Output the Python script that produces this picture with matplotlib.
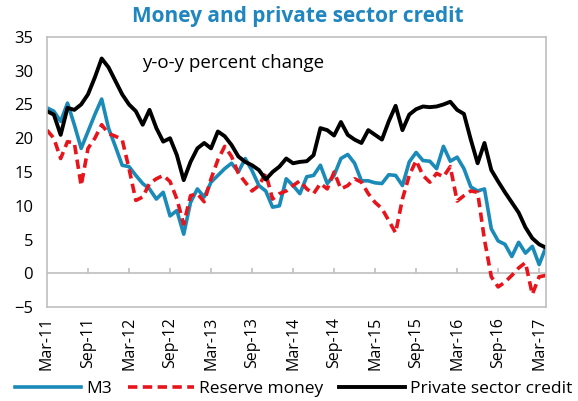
import matplotlib
matplotlib.use("Agg")
import matplotlib.pyplot as plt
import numpy as np
import pandas as pd

plt.rcParams['font.family'] = ['Open Sans', 'DejaVu Sans']

months = pd.date_range("2011-03-01", "2017-04-01", freq="MS")
tick_labels = ["Mar-11", "Sep-11", "Mar-12", "Sep-12", "Mar-13", "Sep-13", "Mar-14",
               "Sep-14", "Mar-15", "Sep-15", "Mar-16", "Sep-16", "Mar-17"]

m3 = [24.5, 24.0, 22.5, 25.2, 22.0, 18.5, 21.0, 23.5, 25.8, 21.5,
      18.8, 16.0, 15.8, 14.5, 13.3, 12.5, 11.0, 12.0, 8.5, 9.3,
      5.8, 10.5, 12.5, 11.3, 13.5, 14.5, 15.5, 16.3, 15.0, 17.0,
      15.2, 13.0, 12.2, 9.8, 10.0, 14.0, 13.0, 11.8, 14.3, 14.5,
      16.0, 13.3, 14.5, 17.0, 17.6, 16.3, 13.7, 13.7, 13.4, 13.3,
      14.6, 14.5, 13.0, 16.5, 17.9, 16.7, 16.6, 15.5, 18.8, 16.6,
      17.2, 15.5, 12.8, 12.2, 12.5, 6.6, 4.8, 4.3, 2.5, 4.6,
      3.0, 4.0, 1.3, 3.9]

reserve_money = [21.2, 20.0, 17.0, 19.5, 19.3, 13.0, 18.5, 20.0, 22.0, 20.7,
                 20.3, 19.8, 15.5, 10.8, 11.3, 13.3, 14.0, 14.5, 13.6, 11.0,
                 7.3, 11.5, 11.8, 10.6, 14.0, 16.8, 18.8, 17.3, 14.8, 13.5,
                 12.2, 13.0, 14.8, 11.0, 11.8, 12.2, 13.0, 13.7, 12.5, 11.8,
                 13.3, 12.5, 15.0, 12.5, 13.0, 14.0, 13.5, 11.8, 10.5, 9.6,
                 7.8, 6.0, 11.0, 14.5, 16.7, 14.5, 13.5, 14.8, 14.3, 15.8,
                 10.7, 11.5, 12.2, 12.0, 5.0, -0.5, -2.0, -1.3, -0.3, 0.8,
                 1.6, -3.1, -0.5, -0.3]

private_credit = [24.0, 23.5, 20.5, 24.5, 24.2, 25.0, 26.5, 29.0, 31.8, 30.5,
                  28.5, 26.5, 25.0, 24.0, 22.0, 24.2, 21.5, 19.5, 20.0, 17.5,
                  13.8, 16.5, 18.5, 19.3, 18.5, 21.0, 20.3, 19.0, 17.3, 16.5,
                  16.0, 15.3, 13.9, 15.0, 15.8, 17.0, 16.3, 16.5, 16.6, 17.5,
                  21.5, 21.2, 20.4, 22.4, 20.5, 19.8, 19.3, 21.2, 20.5, 19.8,
                  22.5, 24.8, 21.2, 23.5, 24.3, 24.7, 24.6, 24.7, 25.0, 25.4,
                  24.2, 23.6, 19.8, 16.3, 19.3, 15.3, 13.6, 12.0, 10.5, 9.0,
                  6.8, 5.2, 4.3, 3.8]

x = np.arange(len(months))

fig = plt.figure(figsize=(5.78, 4.01), dpi=100)
ax = fig.add_axes([0.0813, 0.234, 0.8633, 0.674])

blue = '#1A8AB8'
red = '#E8141B'
ax.plot(x, m3, color=blue, lw=2.6, label='M3')
ax.plot(x, reserve_money, color=red, lw=2.6, linestyle=(0, (2.6, 1.5)), label='Reserve money')
ax.plot(x, private_credit, color='black', lw=2.8, label='Private sector credit')

ax.set_xlim(0, len(months) - 1)
ax.set_ylim(-5, 35)
ax.set_yticks(np.arange(-5, 36, 5))
ax.tick_params(axis='y', length=0, labelsize=12, pad=10)

tick_pos = x[::6]
ax.set_xticks(tick_pos)
ax.set_xticklabels(tick_labels, rotation=90, fontsize=11.5)
ax.tick_params(axis='x', length=0, pad=7)

ax.axhline(0, color='#BFBFBF', lw=1.2, zorder=1)
ax.vlines(tick_pos[1:], 0, 0.8, color='#BFBFBF', lw=1.2, zorder=1)

for s in ax.spines.values():
    s.set_color('#BFBFBF')
    s.set_linewidth(1.2)

ax.text(0.19, 0.905, 'y-o-y percent change', transform=ax.transAxes, fontsize=13.5, va='center')

fig.suptitle('Money and private sector credit', x=0.515, y=0.985, fontsize=15,
             fontweight='bold', color='#1F86BF')

fig.legend(loc='center', bbox_to_anchor=(0.508, 0.03), ncol=3, frameon=False,
           fontsize=12.5, handlelength=3.8, columnspacing=0.9, handletextpad=0.3)

fig.savefig('out.png', dpi=100)
